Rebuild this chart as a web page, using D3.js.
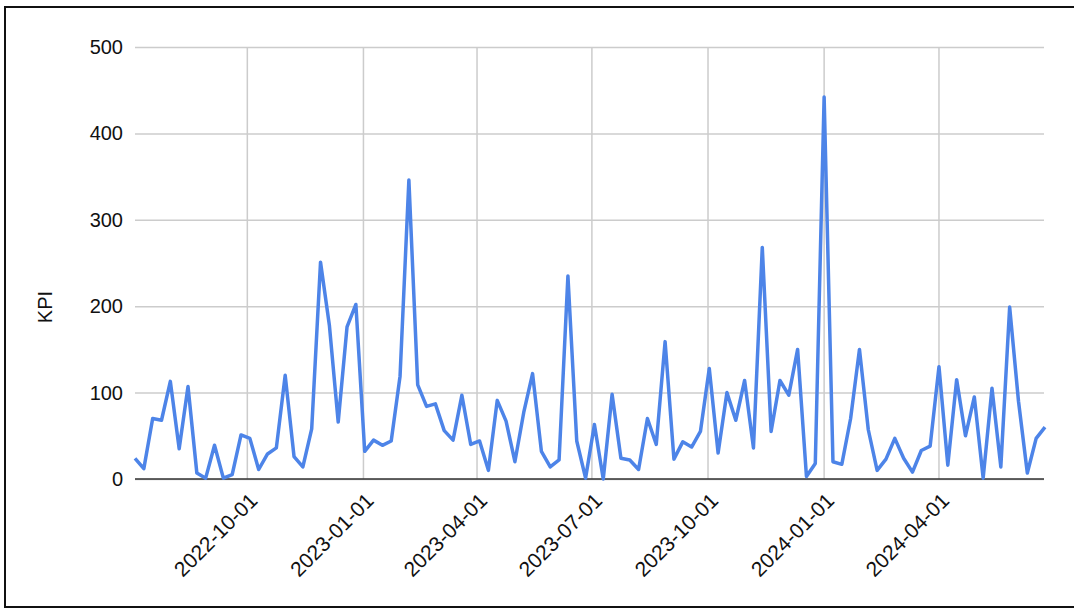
<!DOCTYPE html>
<html>
<head>
<meta charset="utf-8">
<script src="https://cdn.jsdelivr.net/npm/d3@7"></script>
<style>
  body { margin: 0; background: #fff; }
  text { font-family: "Liberation Sans", Arial, sans-serif; }
</style>
</head>
<body>
<div id="chart"></div>
<script>
// weekly KPI values, first week starting 2022-07-04
var startDate = "2022-07-04";
var kpiValues = [
  24, 12, 70, 68, 113, 35, 107, 7, 1, 39,
  1, 5, 51, 47, 11, 29, 36, 120, 26, 14,
  58, 251, 178, 66, 176, 202, 32, 45, 39, 44,
  119, 346, 109, 84, 87, 56, 45, 97, 40, 44,
  10, 91, 67, 20, 77, 122, 32, 14, 22, 235,
  44, 1, 63, 0, 98, 24, 22, 11, 70, 40,
  159, 23, 43, 37, 55, 128, 30, 100, 68, 114,
  36, 268, 55, 114, 97, 150, 3, 18, 442, 20,
  17, 70, 150, 57, 10, 23, 47, 24, 8, 33,
  38, 130, 16, 115, 50, 95, 1, 105, 14, 199,
  90, 7, 47, 60
];
var xTickDates = ["2022-10-01", "2023-01-01", "2023-04-01", "2023-07-01", "2023-10-01", "2024-01-01", "2024-04-01"];
var yTicks = [0, 100, 200, 300, 400, 500];

var W = 1074, H = 612;
var plotLeft = 135, plotRight = 1045, plotTop = 47, plotBottom = 479;

var parse = d3.timeParse("%Y-%m-%d");
var fmt = d3.timeFormat("%Y-%m-%d");
var t0 = parse(startDate);
var data = kpiValues.map(function (v, i) {
    return { date: d3.timeWeek.offset(t0, i), value: v };
});

var svg = d3.select("#chart")
    .append("svg")
    .attr("width", W)
    .attr("height", H);

// outer frame
svg.append("rect")
    .attr("x", 5).attr("y", 7)
    .attr("width", 1090).attr("height", 600)
    .style("fill", "none")
    .style("stroke", "#111")
    .style("stroke-width", 2);

var x = d3.scaleTime()
    .domain(d3.extent(data, function (d) { return d.date; }))
    .range([plotLeft, plotRight]);

var y = d3.scaleLinear()
    .domain([0, 500])
    .range([plotBottom, plotTop]);

// horizontal grid + y labels
var yAxis = svg.append("g")
    .attr("transform", "translate(" + plotLeft + ",0)")
    .call(d3.axisLeft(y).tickValues(yTicks).tickSize(-(plotRight - 1 - plotLeft)).tickPadding(12));
yAxis.select(".domain").remove();
yAxis.selectAll(".tick line")
    .style("stroke", "#cccccc")
    .style("stroke-width", 1.5);
yAxis.selectAll(".tick text")
    .style("font-size", "20px")
    .style("fill", "#111");

// vertical grid
svg.append("g")
    .selectAll("line")
    .data(xTickDates.map(parse))
    .enter()
    .append("line")
    .attr("x1", function (d) { return x(d); })
    .attr("x2", function (d) { return x(d); })
    .attr("y1", plotTop)
    .attr("y2", plotBottom)
    .style("stroke", "#cccccc")
    .style("stroke-width", 1.5);

// x labels, rotated
var xAxis = svg.append("g")
    .attr("transform", "translate(0," + plotBottom + ")")
    .call(d3.axisBottom(x).tickValues(xTickDates.map(parse)).tickFormat(fmt).tickSize(0));
xAxis.select(".domain").remove();
xAxis.selectAll(".tick text")
    .attr("text-anchor", "end")
    .attr("dy", null)
    .attr("y", 0)
    .attr("transform", "translate(11,23) rotate(-45)")
    .style("font-size", "21px")
    .style("fill", "#111");

// baseline
svg.append("line")
    .attr("x1", plotLeft).attr("x2", plotRight - 1)
    .attr("y1", y(0)).attr("y2", y(0))
    .style("stroke", "#333")
    .style("stroke-width", 1.5);

// the KPI line
var line = d3.line()
    .x(function (d) { return x(d.date); })
    .y(function (d) { return y(d.value); });

svg.append("path")
    .datum(data)
    .attr("d", line)
    .style("fill", "none")
    .style("stroke", "#4d84e8")
    .style("stroke-width", 3.5)
    .style("stroke-linejoin", "round");

// y title
svg.append("text")
    .attr("transform", "translate(52,307) rotate(-90)")
    .attr("text-anchor", "middle")
    .style("font-size", "20px")
    .style("fill", "#111")
    .text("KPI");
</script>
</body>
</html>
